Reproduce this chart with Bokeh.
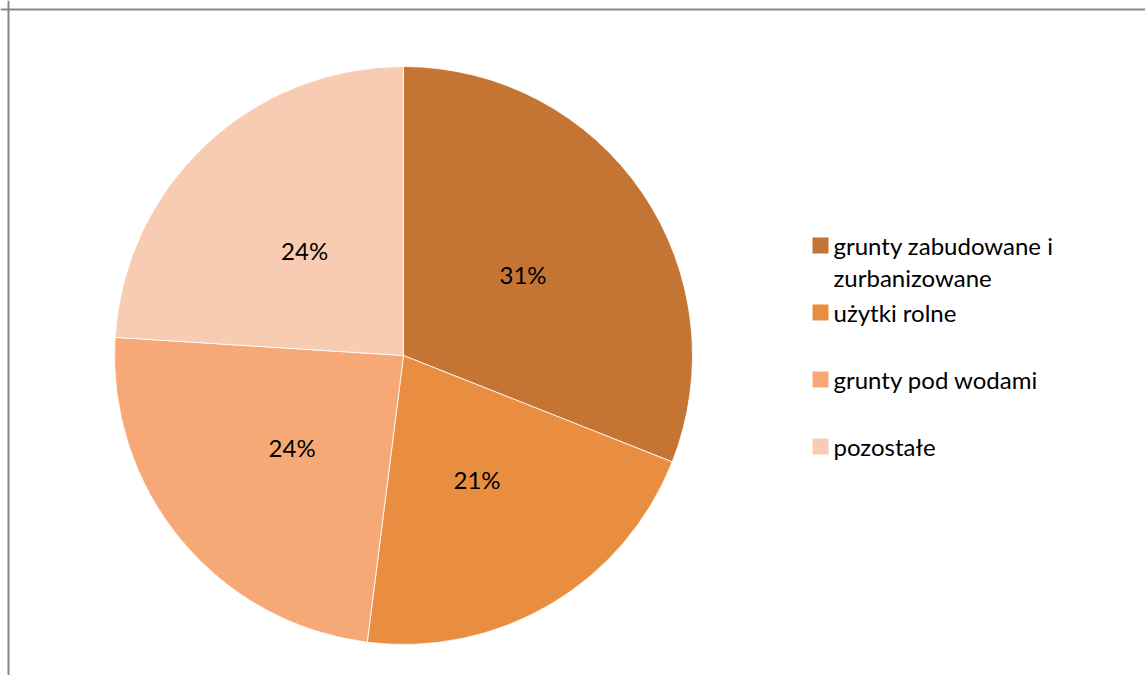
from bokeh.plotting import figure
from bokeh.models import Range1d, Span
from bokeh.core.properties import value
from bokeh.embed import file_html
from bokeh.resources import INLINE
import math

# data
categories = ["grunty zabudowane i\nzurbanizowane", "użytki rolne", "grunty pod wodami", "pozostałe"]
shares = [31, 21, 24, 24]
colors = ["#C47533", "#E98E41", "#F6A977", "#F8CBB3"]

W, H = 1145, 675
FONT = value("Lato")
FS = "24px"

p = figure(width=W, height=H, output_backend="svg", toolbar_location=None,
           x_range=Range1d(0, W), y_range=Range1d(0, H), min_border=0)
p.axis.visible = False
p.grid.visible = False
p.outline_line_color = None
p.background_fill_color = "white"

def py(page_y):
    return H - page_y

# frame lines (top and left only visible in reference)
p.add_layout(Span(location=py(9), dimension="width", line_color="#878787", line_width=2))
p.add_layout(Span(location=8, dimension="height", line_color="#878787", line_width=2))

cx, cy, R = 403, py(355), 289
total = float(sum(shares))
cum = 0.0
starts, ends, lx, ly, labs = [], [], [], [], []
for v in shares:
    a0 = math.pi / 2 - 2 * math.pi * cum / total
    cum += v
    a1 = math.pi / 2 - 2 * math.pi * cum / total
    starts.append(a0)
    ends.append(a1)
    mid = (a0 + a1) / 2
    lx.append(cx + 0.5 * R * math.cos(mid))
    ly.append(cy + 0.5 * R * math.sin(mid))
    labs.append(f"{round(v / total * 100)}%")

p.wedge(x=cx, y=cy, radius=R, start_angle=starts, end_angle=ends, direction="clock",
        fill_color=colors, line_color="white", line_width=1, line_alpha=0.8)

p.text(x=lx, y=ly, text=labs, text_align="center", text_baseline="middle",
       text_font=FONT, text_font_size=FS, text_color="black")

# legend
mx = 812
tx = 833
row0 = 245
step = 67
for i, (name, c) in enumerate(zip(categories, colors)):
    yy = py(row0 + i * step)
    p.rect(x=mx + 8, y=yy, width=16, height=16, fill_color=c, line_color=None)
    for j, line in enumerate(name.split("\n")):
        p.text(x=[tx], y=[yy - j * 32], text=[line], text_align="left", text_baseline="middle",
               text_font=FONT, text_font_size=FS, text_color="black")

open("out.html", "w").write(file_html(p, INLINE))
